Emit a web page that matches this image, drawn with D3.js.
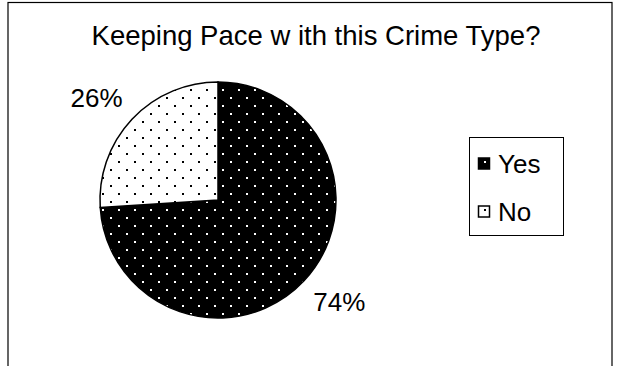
<!DOCTYPE html>
<html><head><meta charset="utf-8">
<script src="https://cdn.jsdelivr.net/npm/d3@7"></script>
<style>body{margin:0;background:#fff}svg{display:block}text{font-family:"Liberation Sans",Arial,sans-serif;fill:#000}</style>
</head><body>
<svg id="c" width="621" height="366"></svg>
<script>
const categories = ["Yes", "No"];
const values = [74, 26];
const labels = ["74%", "26%"];
const title = "Keeping Pace w ith this Crime Type?";

const svg = d3.select("#c");
const defs = svg.append("defs");
function dotPattern(id, bg, fg) {
  const p = defs.append("pattern").attr("id", id).attr("patternUnits", "userSpaceOnUse")
    .attr("width", 16).attr("height", 16).attr("x", 12).attr("y", 9);
  p.append("rect").attr("width", 16).attr("height", 16).attr("fill", bg);
  p.append("rect").attr("x", 0).attr("y", 0).attr("width", 2).attr("height", 2).attr("fill", fg);
  p.append("rect").attr("x", 8).attr("y", 8).attr("width", 2).attr("height", 2).attr("fill", fg);
}
dotPattern("pYes", "#000", "#fff");
dotPattern("pNo", "#fff", "#000");
const fills = {Yes: "url(#pYes)", No: "url(#pNo)"};

svg.append("rect").attr("x", 8).attr("y", 2.5).attr("width", 604).attr("height", 400)
  .attr("fill", "none").attr("stroke", "#000").attr("stroke-width", 1.2);

svg.append("text").attr("x", 316).attr("y", 45).attr("text-anchor", "middle")
  .attr("font-size", 27.5).text(title);

const cx = 218, cy = 200, r = 118;
const data = categories.map((c, i) => ({cat: c, v: values[i], label: labels[i]}));
const pie = d3.pie().value(d => d.v).sort(null);
const arc = d3.arc().innerRadius(0).outerRadius(r);
const g = svg.append("g").attr("transform", `translate(${cx},${cy})`);
const arcs = pie(data);
g.selectAll("path").data(arcs).join("path")
  .attr("d", arc).attr("fill", d => fills[d.data.cat])
  .attr("stroke", "#000").attr("stroke-width", 1.5);

const lblArc = d3.arc().innerRadius(r * 1.26).outerRadius(r * 1.26);
g.selectAll("text.lbl").data(arcs).join("text").attr("class", "lbl")
  .attr("transform", d => {
    const [x, y] = lblArc.centroid(d);
    const side = x >= 0 ? 1 : -1;
    return `translate(${x + side * 13},${y})`;
  })
  .attr("text-anchor", "middle").attr("dy", "0.35em").attr("font-size", 26)
  .text(d => d.data.label);

const lg = svg.append("g");
lg.append("rect").attr("x", 469.5).attr("y", 137.5).attr("width", 94).attr("height", 98)
  .attr("fill", "#fff").attr("stroke", "#000").attr("stroke-width", 1);
categories.forEach((c, i) => {
  const y = 164 + i * 48;
  lg.append("rect").attr("x", 478.5).attr("y", y - 6).attr("width", 11).attr("height", 11)
    .attr("fill", fills[c]).attr("stroke", "#000").attr("stroke-width", 1.5);
  lg.append("text").attr("x", 498).attr("y", y).attr("dy", "0.35em").attr("font-size", 26).text(c);
});
</script>
</body></html>
